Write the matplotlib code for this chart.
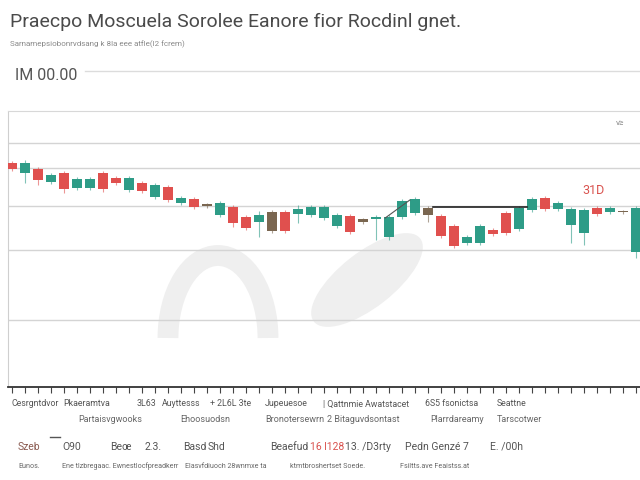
import matplotlib
matplotlib.use("Agg")
import matplotlib.pyplot as plt
from matplotlib.patches import Arc, Ellipse

plt.rcParams['font.family'] = ['Roboto', 'DejaVu Sans']

# candle data (price units)
opens = [42.4, 41.4, 41.8, 40.5, 41.4, 39.9, 39.9, 41.4, 40.9, 39.7, 40.4, 39.0, 40.0,
         38.4, 38.8, 38.3, 37.2, 38.0, 37.0, 36.5, 37.5, 37.5, 37.3, 37.2, 36.9, 36.1,
         37.1, 36.8, 36.8, 35.0, 37.0, 37.4, 37.2, 37.1, 36.1, 34.4, 34.4, 35.7, 37.4,
         35.8, 37.7, 38.9, 37.8, 36.2, 35.4, 37.9, 37.5, 37.5, 33.5]
closes = [41.8, 42.4, 40.7, 41.2, 39.8, 40.8, 40.8, 39.8, 40.4, 40.9, 39.6, 40.2, 38.7,
          38.9, 38.0, 38.1, 38.4, 36.4, 35.9, 37.2, 35.6, 35.6, 37.8, 38.0, 38.0, 37.2,
          35.5, 36.5, 37.0, 37.0, 38.6, 38.8, 37.9, 35.1, 34.1, 35.0, 36.1, 35.3, 35.4,
          37.9, 38.8, 37.8, 38.4, 37.8, 37.7, 37.3, 37.9, 37.5, 37.9]
highs = [42.6, 42.7, 42.0, 41.4, 41.6, 41.0, 41.0, 41.6, 41.1, 41.1, 40.6, 40.4, 40.2,
         39.1, 39.0, 38.4, 38.6, 38.2, 37.2, 37.6, 37.7, 37.7, 38.2, 38.2, 38.2, 37.4,
         37.3, 36.9, 37.2, 37.2, 38.8, 39.0, 38.1, 37.3, 36.3, 35.2, 36.3, 35.9, 37.6,
         38.1, 39.0, 39.1, 38.6, 38.0, 37.9, 38.1, 38.1, 37.7, 38.1]
lows = [41.6, 40.4, 40.2, 40.3, 39.4, 39.7, 39.7, 39.5, 40.2, 39.5, 39.4, 38.8, 38.5,
        38.2, 37.8, 37.9, 37.0, 36.0, 35.7, 35.0, 35.4, 35.4, 36.4, 37.0, 36.7, 35.9,
        35.3, 36.3, 34.7, 34.7, 36.8, 37.2, 36.5, 34.9, 33.9, 34.2, 34.2, 35.1, 35.2,
        35.6, 37.5, 37.6, 37.6, 34.4, 34.2, 37.1, 37.3, 37.3, 32.9]
flat_idx = [15, 20, 27, 32, 47]

grid_levels = [44.4, 41.9, 38.1, 33.7, 26.7]

trend_x = [28.7, 30.6]
trend_y = [36.9, 38.7]
level_x = [32.4, 39.6]
level_y = [38.0, 38.0]

title = "Praecpo Moscuela Sorolee Eanore fior Rocdinl gnet."
subtitle = "Sarnamepsiobonrvdsang k 8la eee atfle(l2 fcrem)"

row1 = [(12, "Cesrgntdvor"), (63, "Pkaeramtva"), (137, "3L63"), (162, "Auyttesss"),
        (210, "+ 2L6L 3te"), (265, "Jupeuesoe"), (323, "| Qattnmie Awatstacet"),
        (425, "6S5 fsonictsa"), (497, "Seattne")]
row2 = [(78, "Partaisvgwooks"), (180, "Ehoosuodsn"), (265, "Bronotersewrn"),
        (327, "2 Bitaguvdsontast"), (430, "Plarrdareamy"), (497, "Tarscotwer")]
row3 = [(18, "Szeb"), (62, "O90"), (110, "Beœ"), (145, "2.3."), (183, "Basd"),
        (208, "Shd"), (270, "Beaefud"), (310, "16 l128"), (345, "13. /D3rty"),
        (405, "Pedn Genzé 7"), (490, "E. /00h")]
row4 = [(18, "Eunos."), (62, "Ene tlzbregaac. Ewnestlocfpreadkerr"),
        (185, "Elasvfdiuoch 28wnmxe ta"), (290, "ktmtbroshertset Soede."),
        (400, "Fsiltts.ave Feaistss.at")]

UP = "#2e9c87"
DOWN = "#e0504e"
FLAT = "#7a6650"

fig = plt.figure(figsize=(6.4, 4.8), dpi=100)
bg = fig.add_axes([0, 0, 1, 1], zorder=0)
bg.set_xlim(0, 640)
bg.set_ylim(480, 0)
bg.axis("off")

# watermark
bg.add_patch(Arc((218, 338), 100, 165, theta1=180, theta2=360, lw=15, color="#efefef"))
bg.add_patch(Ellipse((367, 280), 135, 55, angle=-38, color="#efefef", lw=0))

# header
fig.text(10 / 640, 1 - 22 / 480, title, fontsize=14, color="#4a4a4a", va="center")
fig.text(10 / 640, 1 - 44 / 480, subtitle, fontsize=5.8, color="#8a8a8a", va="center")
fig.text(15 / 640, 1 - 75 / 480, "IM 00.00", fontsize=11.5, color="#555555", va="center")
bg.plot([85, 640], [71, 71], color="#dcdcdc", lw=1)
bg.text(620, 123, "v≥", fontsize=6, color="#888888", ha="center", va="center")

ax = fig.add_axes([8 / 640, 1 - 387 / 480, 632 / 640, 276 / 480], zorder=1)
ax.patch.set_alpha(0)

for lv in grid_levels:
    ax.axhline(lv, color="#d4d4d4", lw=1, zorder=0)

for i in range(len(opens)):
    o, c = opens[i], closes[i]
    if i in flat_idx:
        col = FLAT
    elif c >= o:
        col = UP
    else:
        col = DOWN
    ax.vlines(i, lows[i], highs[i], color=col, lw=0.8, alpha=0.6, zorder=2)
    h = abs(c - o)
    if h < 0.15:
        h = 0.15
    ax.bar(i, h, bottom=min(o, c), width=0.8, color=col, zorder=3)

ax.plot(trend_x, trend_y, color="#555555", lw=0.8, zorder=4)
ax.plot(level_x, level_y, color="#222222", lw=1.2, zorder=4)
ax.text(44.7, 39.7, "31D", color="#d9534f", fontsize=9, ha="center", va="center")

ax.set_xlim(-0.31, 48.3)
ax.set_ylim(20, 47.6)
ax.set_xticks(range(len(opens)))
ax.set_xticklabels([])
ax.set_yticks([])
ax.tick_params(axis="x", length=4, color="#444444", width=0.8)
ax.spines["right"].set_visible(False)
ax.spines["top"].set_color("#d8d8d8")
ax.spines["left"].set_color("#cfcfcf")
ax.spines["bottom"].set_color("#333333")
ax.spines["bottom"].set_linewidth(1.3)

# footer rows
for x, s in row1:
    fig.text(x / 640, 1 - 404 / 480, s, fontsize=6.3, color="#555555", va="center")
for x, s in row2:
    fig.text(x / 640, 1 - 419 / 480, s, fontsize=6.5, color="#666666", va="center")
for x, s in row3:
    col = "#d9534f" if s == "16 l128" else "#555555"
    if s == "Szeb":
        col = "#8a5a50"
    fig.text(x / 640, 1 - 447 / 480, s, fontsize=7.5, color=col, va="center")
for x, s in row4:
    fig.text(x / 640, 1 - 466 / 480, s, fontsize=5.1, color="#666666", va="center")
bg.plot([50, 60], [437, 437], color="#555555", lw=1)

fig.savefig("out.png", dpi=100)
